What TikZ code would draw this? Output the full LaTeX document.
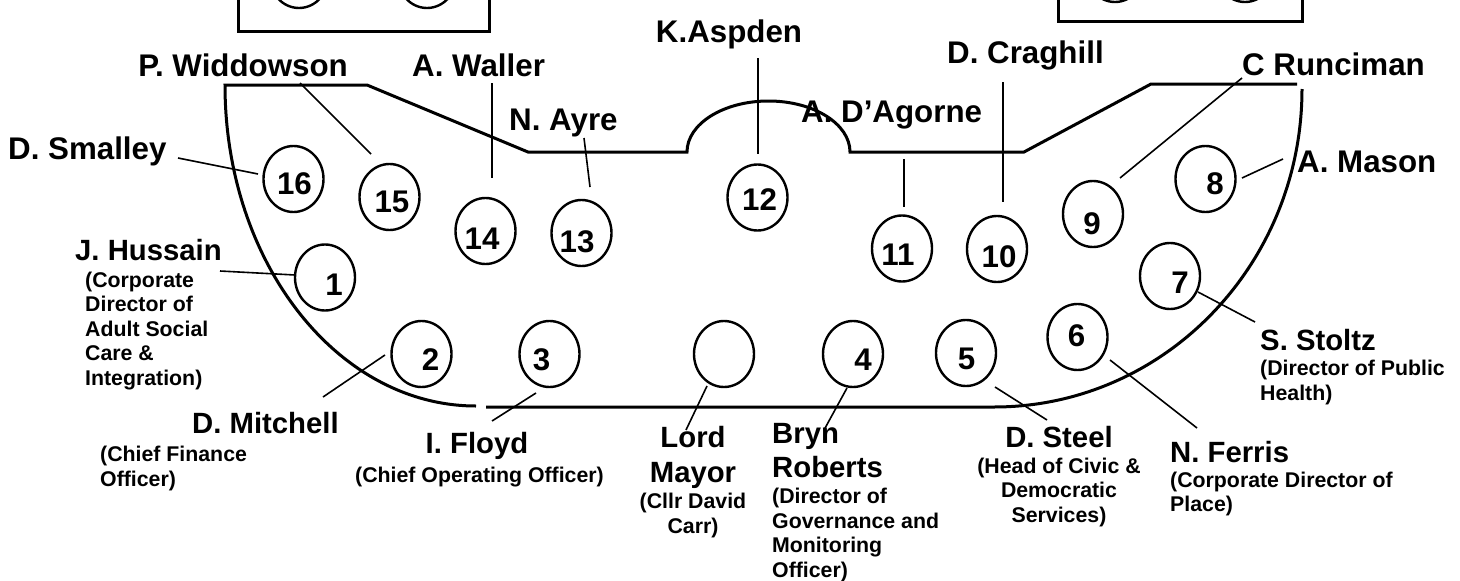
\documentclass[tikz,border=0pt]{standalone}
\usepackage{fontspec}
\setmainfont{Liberation Sans}
\usetikzlibrary{shapes.geometric}
\begin{document}
\begin{tikzpicture}[x=1pt,y=-1pt,
  outline/.style={line width=3pt, line join=miter},
  boxline/.style={line width=3pt},
  seat/.style={draw, ellipse, line width=2.4pt, minimum width=60pt, minimum height=66pt, inner sep=0pt},
  num/.style={font=\fontsize{31.3}{36}\selectfont\bfseries, inner sep=0pt},
  nmt/.style={font=\fontsize{31.3}{36}\selectfont\bfseries, inner sep=0pt},
  nm/.style={font=\fontsize{29.3}{34}\selectfont\bfseries, inner sep=0pt},
  sub/.style={font=\fontsize{21.3}{24.5}\selectfont\bfseries, inner sep=0pt},
  leader/.style={line width=1.6pt}]
\useasboundingbox (0,0) rectangle (1460,581);
\clip (0,0) rectangle (1460,581);
\fill[white] (0,0) rectangle (1460,581);

% top boxes (cut by the page edge)
\draw[boxline] (238,-10) -- (238,31) -- (489,31) -- (489,-10);
\node[seat] (b1) at (299,-25) {};
\node[seat] (b2) at (427,-25) {};
\draw[boxline] (1058,-10) -- (1058,21) -- (1302,21) -- (1302,-10);
\node[seat] (b3) at (1115,-31) {};
\node[seat] (b4) at (1245,-31) {};

% table outline
\draw[outline] (1297,84) -- (1151,84) -- (1024,152) -- (850,152)
  arc[start angle=0, end angle=180, x radius=81.5pt, y radius=51pt]
  -- (528,152) -- (367,85) -- (225,85)
  arc[start angle=180, end angle=270, x radius=251pt, y radius=321pt];
\draw[outline] (1302,89) arc[start angle=0, end angle=-90, x radius=308pt, y radius=318pt] -- (486,407);

% seats
\node[seat] (s1) at (325,277.5) {};
\node[seat] (s2) at (421.5,354) {};
\node[seat] (s3) at (549.5,354) {};
\node[seat] (sLM) at (724,354) {};
\node[seat] (s4) at (853,354) {};
\node[seat] (s5) at (966,353) {};
\node[seat] (s6) at (1077.5,337) {};
\node[seat] (s7) at (1170,276) {};
\node[seat] (s8) at (1205.5,179) {};
\node[seat] (s9) at (1093,214) {};
\node[seat] (s10) at (997,249) {};
\node[seat] (s11) at (902,248.5) {};
\node[seat] (s12) at (757.5,197.5) {};
\node[seat] (s13) at (581.5,233) {};
\node[seat] (s14) at (485.5,231) {};
\node[seat] (s15) at (389.5,197) {};
\node[seat] (s16) at (293.5,179) {};

% seat numbers
\node[num] (n1) at (334,285) {1};
\node[num] (n2) at (430.5,360) {2};
\node[num] (n3) at (541.5,360) {3};
\node[num] (n4) at (863,360) {4};
\node[num] (n5) at (966.5,359) {5};
\node[num] (n6) at (1076.5,336) {6};
\node[num] (n7) at (1180,283) {7};
\node[num] (n8) at (1215,183.5) {8};
\node[num] (n9) at (1092,224) {9};
\node[num] (n10) at (999,257) {10};
\node[num] (n11) at (898,255) {11};
\node[num] (n12) at (759.5,200) {12};
\node[num] (n13) at (577,242) {13};
\node[num] (n14) at (482,239) {14};
\node[num] (n15) at (392,201.5) {15};
\node[num] (n16) at (294.5,184) {16};

% names, top group
\node[nmt, anchor=base east] (tWid) at (348,76) {P. Widdowson};
\node[nmt, anchor=base west] (tWal) at (412,76) {A. Waller};
\node[nmt, anchor=base] (tAsp) at (729,42) {K.Aspden};
\node[nmt, anchor=base west] (tCra) at (947,63) {D. Craghill};
\node[nmt, anchor=base west] (tRun) at (1242,75) {C Runciman};
\node[nmt, anchor=base west] (tAyr) at (509,130) {N. Ayre};
\node[nmt, anchor=base west] (tDAg) at (801,122) {A. D’Agorne};
\node[nmt, anchor=base west] (tSma) at (8,159) {D. Smalley};
\node[nmt, anchor=base west] (tMas) at (1297,172) {A. Mason};

% J. Hussain
\node[nm, anchor=base west] (tHus) at (75,260) {J. Hussain};
\node[sub, anchor=base west] (hu1) at (85,287) {(Corporate};
\node[sub, anchor=base west] (hu2) at (85,311.5) {Director of};
\node[sub, anchor=base west] (hu3) at (85,336) {Adult Social};
\node[sub, anchor=base west] (hu4) at (85,360.5) {Care \&};
\node[sub, anchor=base west] (hu5) at (85,385) {Integration)};

% D. Mitchell
\node[nm, anchor=base west] (tMit) at (192,433) {D. Mitchell};
\node[sub, anchor=base west] (mi1) at (100,461) {(Chief Finance};
\node[sub, anchor=base west] (mi2) at (100,486) {Officer)};

% I. Floyd
\node[nm, anchor=base] (tFlo) at (477,453) {I. Floyd};
\node[sub, anchor=base] (fl1) at (479.5,482) {(Chief Operating Officer)};

% Lord Mayor
\node[nm, anchor=base] (tLM1) at (693,447) {Lord};
\node[nm, anchor=base] (tLM2) at (693,482) {Mayor};
\node[sub, anchor=base] (lm1) at (693,508) {(Cllr David};
\node[sub, anchor=base] (lm2) at (693,533) {Carr)};

% Bryn Roberts
\node[nm, anchor=base west] (tBr1) at (772,443) {Bryn};
\node[nm, anchor=base west] (tBr2) at (772,477) {Roberts};
\node[sub, anchor=base west] (br1) at (772,503) {(Director of};
\node[sub, anchor=base west] (br2) at (772,528) {Governance and};
\node[sub, anchor=base west] (br3) at (772,552) {Monitoring};
\node[sub, anchor=base west] (br4) at (772,577) {Officer)};

% D. Steel
\node[nm, anchor=base] (tSte) at (1059,447) {D. Steel};
\node[sub, anchor=base] (st1) at (1059,473) {(Head of Civic \&};
\node[sub, anchor=base] (st2) at (1059,497.5) {Democratic};
\node[sub, anchor=base] (st3) at (1059,522) {Services)};

% N. Ferris
\node[nm, anchor=base west] (tFer) at (1170,462) {N. Ferris};
\node[sub, anchor=base west] (fe1) at (1170,487) {(Corporate Director of};
\node[sub, anchor=base west] (fe2) at (1170,511) {Place)};

% S. Stoltz
\node[nm, anchor=base west] (tSto) at (1260,350) {S. Stoltz};
\node[sub, anchor=base west] (so1) at (1260,375) {(Director of Public};
\node[sub, anchor=base west] (so2) at (1260,400) {Health)};

% leader end points
\coordinate (aSma) at (178,158); \coordinate (eSma) at (258,174);
\coordinate (aWid) at (300,83);  \coordinate (eWid) at (371,154);
\coordinate (aWal) at (492,83);  \coordinate (eWal) at (492,178);
\coordinate (aAyr) at (584,138); \coordinate (eAyr) at (590,187);
\coordinate (aAsp) at (758,58);  \coordinate (eAsp) at (758,154);
\coordinate (aDAg) at (904,159); \coordinate (eDAg) at (904,207);
\coordinate (aCra) at (1003,82); \coordinate (eCra) at (1003,202);
\coordinate (aRun) at (1242,78); \coordinate (eRun) at (1120,178);
\coordinate (aMas) at (1283,159); \coordinate (eMas) at (1242,178);
\coordinate (aHus) at (220,271); \coordinate (eHus) at (295,275);
\coordinate (aMit) at (323,397); \coordinate (eMit) at (385,355);
\coordinate (aFlo) at (492,421); \coordinate (eFlo) at (536,393);
\coordinate (aLM) at (686,430);  \coordinate (eLM) at (707,386);
\coordinate (aBr) at (824,430);  \coordinate (eBr) at (847,388);
\coordinate (aSte) at (1047,420); \coordinate (eSte) at (995,387);
\coordinate (aFer) at (1197,428); \coordinate (eFer) at (1110,360);
\coordinate (aSto) at (1255,322); \coordinate (eSto) at (1198,292);

\foreach \k in {Sma,Wid,Wal,Ayr,Asp,DAg,Cra,Run,Mas,Hus,Mit,Flo,LM,Br,Ste,Fer,Sto}
  \draw[leader] (a\k) -- (e\k);
\end{tikzpicture}
\end{document}
